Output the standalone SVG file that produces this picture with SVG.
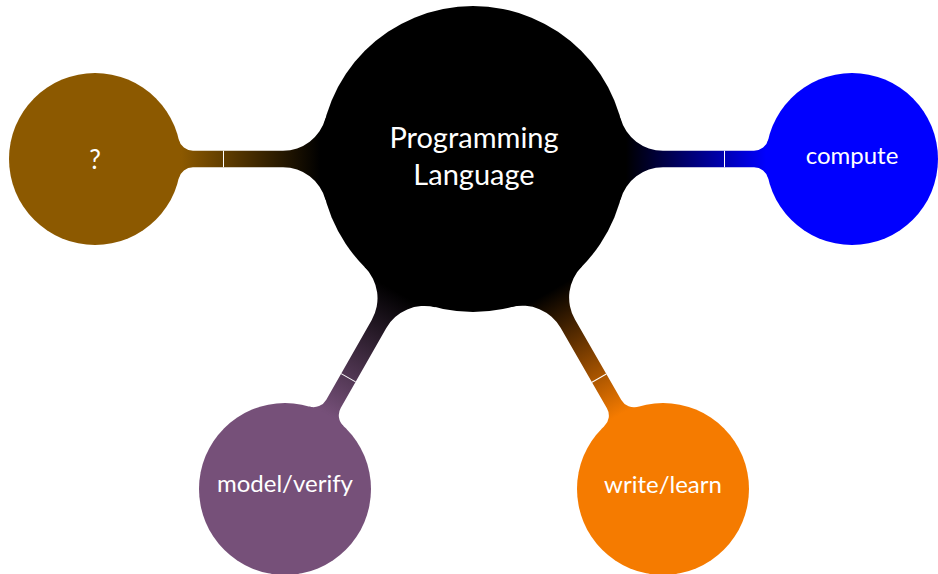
<svg xmlns="http://www.w3.org/2000/svg" width="938" height="574" viewBox="0 0 938 574">
  <style>
    .label { font-family: Lato, "Open Sans", "DejaVu Sans", sans-serif; fill: #ffffff; text-anchor: middle; }
    .root-label { font-size: 29px; }
    .child-label { font-size: 24px; }
    .tick { stroke: #ffffff; stroke-width: 1; fill: none; }
  </style>
  <defs>
    <!-- bar shading runs from the root's border (x=153) to the child's border (x=D-86) -->
    <linearGradient id="gradL" gradientUnits="userSpaceOnUse" x1="153" y1="0" x2="292" y2="0">
      <stop offset="0" stop-color="#000000"/>
      <stop offset="1" stop-color="#8c5900"/>
    </linearGradient>
    <linearGradient id="gradR" gradientUnits="userSpaceOnUse" x1="153" y1="0" x2="293" y2="0">
      <stop offset="0" stop-color="#000000"/>
      <stop offset="1" stop-color="#0000ff"/>
    </linearGradient>
    <linearGradient id="gradMV" gradientUnits="userSpaceOnUse" x1="153" y1="0" x2="293.8" y2="0">
      <stop offset="0" stop-color="#000000"/>
      <stop offset="1" stop-color="#765079"/>
    </linearGradient>
    <linearGradient id="gradWL" gradientUnits="userSpaceOnUse" x1="153" y1="0" x2="294.8" y2="0">
      <stop offset="0" stop-color="#000000"/>
      <stop offset="1" stop-color="#f57b00"/>
    </linearGradient>
  </defs>

  <!-- connection bars: local frame with root at origin, child on +x axis -->
  <g id="connectors">
    <g transform="translate(473,159) rotate(180)">
      <path fill="url(#gradL)" d="M147.5,-40.67 A44.09,44.09 0 0 0 190,-8.3 L280,-8.3 A14.65,14.65 0 0 0 294.26,-19.61 L378,0 L294.26,19.61 A14.65,14.65 0 0 0 280,8.3 L190,8.3 A44.09,44.09 0 0 0 147.5,40.67 L0,0 Z"/>
      <line class="tick" x1="249.5" y1="-8.3" x2="249.5" y2="8.3"/>
    </g>
    <g transform="translate(473,159) rotate(0)">
      <path fill="url(#gradR)" d="M147.5,-40.67 A44.09,44.09 0 0 0 190,-8.3 L281,-8.3 A14.65,14.65 0 0 0 295.26,-19.61 L379,0 L295.26,19.61 A14.65,14.65 0 0 0 281,8.3 L190,8.3 A44.09,44.09 0 0 0 147.5,40.67 L0,0 Z"/>
      <line class="tick" x1="251.5" y1="-8.3" x2="251.5" y2="8.3"/>
    </g>
    <g transform="translate(473,159) rotate(119.67)">
      <path fill="url(#gradMV)" d="M147.5,-40.67 A44.09,44.09 0 0 0 190,-8.3 L281.8,-8.3 A14.65,14.65 0 0 0 296.06,-19.61 L379.8,0 L296.06,19.61 A14.65,14.65 0 0 0 281.8,8.3 L190,8.3 A44.09,44.09 0 0 0 147.5,40.67 L0,0 Z"/>
      <line class="tick" x1="251.8" y1="-8.3" x2="251.8" y2="8.3"/>
    </g>
    <g transform="translate(473,159) rotate(60.07)">
      <path fill="url(#gradWL)" d="M147.5,-40.67 A44.09,44.09 0 0 0 190,-8.3 L282.8,-8.3 A14.65,14.65 0 0 0 297.06,-19.61 L380.8,0 L297.06,19.61 A14.65,14.65 0 0 0 282.8,8.3 L190,8.3 A44.09,44.09 0 0 0 147.5,40.67 L0,0 Z"/>
      <line class="tick" x1="252.8" y1="-8.3" x2="252.8" y2="8.3"/>
    </g>
  </g>

  <g id="root">
    <circle cx="473" cy="159" r="153" fill="#000000"/>
    <text class="label root-label" x="474" y="148">Programming</text>
    <text class="label root-label" x="474" y="185">Language</text>
  </g>

  <g id="unknown">
    <circle cx="95" cy="159" r="86" fill="#8c5900"/>
    <text class="label child-label" x="95" y="169" style="font-size:26px">?</text>
  </g>

  <g id="compute">
    <circle cx="852" cy="159" r="86" fill="#0000ff"/>
    <text class="label child-label" x="852" y="164">compute</text>
  </g>

  <g id="model-verify">
    <circle cx="285" cy="489" r="86" fill="#765079"/>
    <text class="label child-label" x="285" y="492">model/verify</text>
  </g>

  <g id="write-learn">
    <circle cx="663" cy="489" r="86" fill="#f57b00"/>
    <text class="label child-label" x="663" y="493">write/learn</text>
  </g>
</svg>
